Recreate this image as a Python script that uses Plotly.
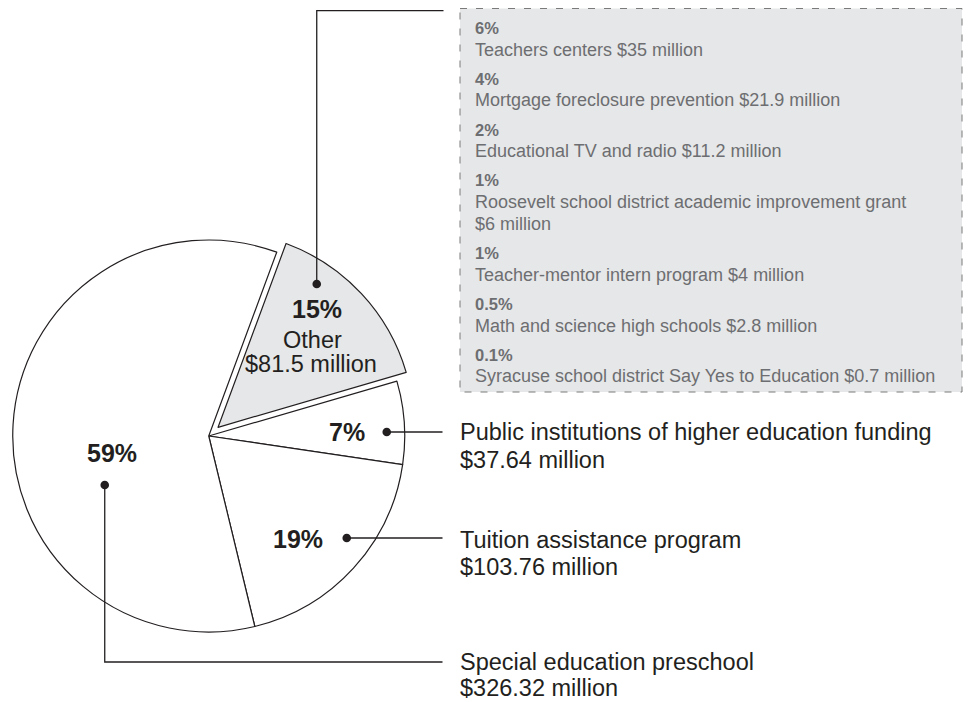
import plotly.graph_objects as go

# ---------------- data ----------------
categories = ["Other", "Public institutions of higher education funding",
              "Tuition assistance program", "Special education preschool"]
values = [81.5, 37.64, 103.76, 326.32]          # $ million
pct_labels = ["15%", "7%", "19%", "59%"]

other_pcts = ["6%", "4%", "2%", "1%", "1%", "0.5%", "0.1%"]
other_names = ["Teachers centers",
               "Mortgage foreclosure prevention",
               "Educational TV and radio",
               "Roosevelt school district academic improvement grant",
               "Teacher-mentor intern program",
               "Math and science high schools",
               "Syracuse school district Say Yes to Education"]
other_amounts = [35, 21.9, 11.2, 6, 4, 2.8, 0.7]  # $ million

# ---------------- layout constants ----------------
W, H = 970, 702
R = 196            # pie radius in px
PULL = 0.065
CX = R * (1 + PULL)
CY = 436
FONT = "Liberation Sans, Arial, Helvetica, sans-serif"
INK = "#231f20"
GREY_TXT = "#6d6e71"
GREY_FILL = "#e6e7e8"


def px(x):
    return x / W


def py(y):
    return 1 - y / H


def money(v):
    return f"${v:g} million"


fig = go.Figure()
fig.add_trace(go.Pie(
    labels=categories,
    values=values,
    sort=False,
    direction="clockwise",
    rotation=20.3,
    pull=[PULL, 0, 0, 0],
    marker=dict(colors=[GREY_FILL, "white", "white", "white"],
                line=dict(color=INK, width=1.2)),
    textinfo="none",
    hoverinfo="label+value+percent",
    domain=dict(x=[0, 2 * CX / W], y=[(H - CY - CX) / H, (H - CY + CX) / H]),
    showlegend=False,
))

shapes = []
annotations = []

# dots inside slices (offsets from pie centre, px)
dot_offsets = [(108, -152), (178, -4), (138, 102), (-104, 49)]
LEAD_X = 442.5
dots = [(CX + dx, CY + dy) for dx, dy in dot_offsets]
for (x, y) in dots:
    shapes.append(dict(type="circle", xref="paper", yref="paper",
                       x0=px(x - 4.3), x1=px(x + 4.3), y0=py(y - 4.3), y1=py(y + 4.3),
                       fillcolor=INK, line=dict(color=INK, width=0), layer="above"))

line_style = dict(color=INK, width=1.3)
TOP_Y = 10.7
SPEC_Y = 662
# Other leader: up then right
shapes.append(dict(type="path", xref="paper", yref="paper",
                   path=f"M {px(dots[0][0])} {py(dots[0][1])} L {px(dots[0][0])} {py(TOP_Y)} L {px(LEAD_X + 1)} {py(TOP_Y)}",
                   line=line_style, layer="above"))
# 7% and 19% leaders
for i in (1, 2):
    shapes.append(dict(type="line", xref="paper", yref="paper",
                       x0=px(dots[i][0]), y0=py(dots[i][1]), x1=px(LEAD_X), y1=py(dots[i][1]),
                       line=line_style, layer="above"))
# 59% leader: down then right
shapes.append(dict(type="path", xref="paper", yref="paper",
                   path=f"M {px(dots[3][0])} {py(dots[3][1])} L {px(dots[3][0])} {py(SPEC_Y)} L {px(LEAD_X)} {py(SPEC_Y)}",
                   line=line_style, layer="above"))

# dashed box for "Other" breakdown
BOX = (460, 8.5, 962, 392)
shapes.append(dict(type="rect", xref="paper", yref="paper",
                   x0=px(BOX[0]), x1=px(BOX[2]), y0=py(BOX[1]), y1=py(BOX[3]),
                   fillcolor=GREY_FILL, line=dict(color="#7a7a7a", width=1, dash="7px,9px"),
                   layer="below"))


def text(x, y, s, size, color=INK, bold=False, anchor="left"):
    annotations.append(dict(
        x=px(x), y=py(y), xref="paper", yref="paper", showarrow=False,
        text=f"<b>{s}</b>" if bold else s, xanchor=anchor, yanchor="middle",
        font=dict(family=FONT, size=size, color=color), borderpad=0, borderwidth=0))


# in-pie labels (offsets from centre)
BIG = 25
REG = 23.5
pct_offsets = [(108, -127), (138.5, -4.3), (89.5, 103.2), (-96.3, 16.5)]
for lab, (dx, dy) in zip(pct_labels, pct_offsets):
    text(CX + dx, CY + dy, lab, BIG, bold=True, anchor="center")
text(CX + 103.5, CY - 96.5, categories[0], REG, anchor="center")
text(CX + 102, CY - 72.5, money(values[0]), REG, anchor="center")

# right-hand labels
RX = 459.5
right_rows = [(1, 432.3, 27.3), (2, 539.5, 27.3), (3, SPEC_Y, 26)]
for idx, yc, gap in right_rows:
    text(RX, yc, categories[idx], REG)
    text(RX, yc + gap, money(values[idx]), REG)

# box contents
BX = 474.5
SMALL = 18
SMALLB = 16.5
y = 34
for pct, name, amt in zip(other_pcts, other_names, other_amounts):
    text(BX, y - 0.36 * SMALLB, pct, SMALLB, color=GREY_TXT, bold=True)
    y += 22
    if len(name) > 46:
        text(BX, y - 0.36 * SMALL, name, SMALL, color=GREY_TXT)
        y += 22
        text(BX, y - 0.36 * SMALL, money(amt), SMALL, color=GREY_TXT)
    else:
        text(BX, y - 0.36 * SMALL, f"{name} {money(amt)}", SMALL, color=GREY_TXT)
    y += 28.8

fig.update_layout(
    width=W, height=H,
    margin=dict(l=0, r=0, t=0, b=0),
    paper_bgcolor="white", plot_bgcolor="white",
    shapes=shapes, annotations=annotations,
    showlegend=False,
)

fig.write_html("out.html", config={"displayModeBar": False},
               post_script="document.body.style.margin='0px';document.body.style.overflow='hidden';")
